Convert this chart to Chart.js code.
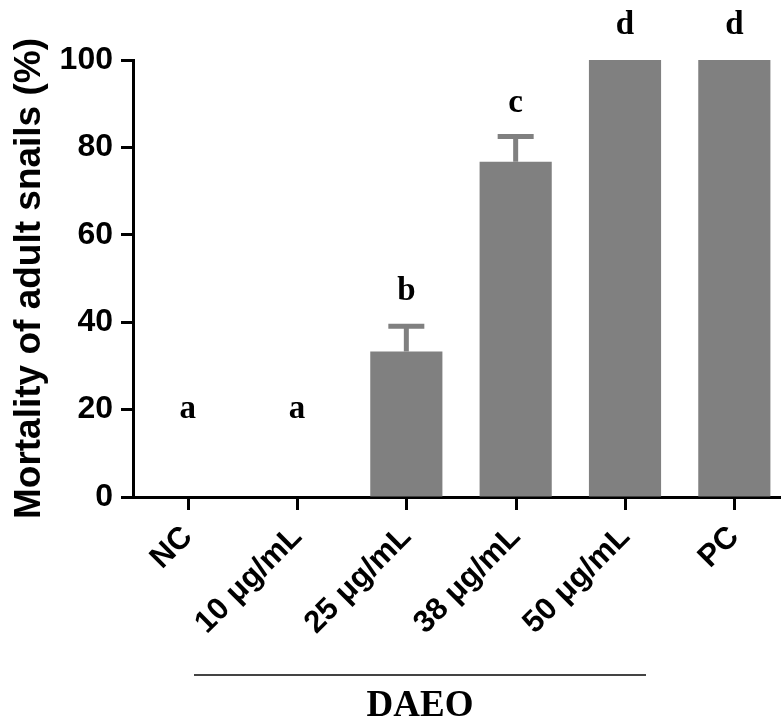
<!DOCTYPE html>
<html>
<head>
<meta charset="utf-8">
<script src="https://cdn.jsdelivr.net/npm/chart.js@4/dist/chart.umd.min.js"></script>
<style>
  html, body { margin: 0; padding: 0; background: #fff; overflow: hidden; }
  #wrap { width: 790px; height: 725px; }
</style>
</head>
<body>
<div id="wrap"><canvas id="mortalityChart"></canvas></div>
<script>
const groups = ['NC', '10 μg/mL', '25 μg/mL', '38 μg/mL', '50 μg/mL', 'PC'];
const mortality = [0, 0, 33.3, 76.7, 100, 100];
const errUp = [0, 0, 5.8, 5.8, 0, 0];
const letters = ['a', 'a', 'b', 'c', 'd', 'd'];
const letterAt = [20, 20, 47, 90, 108, 108];
const yTicks = [0, 20, 40, 60, 80, 100];

const barGray = '#808080';
const sans = '"Liberation Sans", Arial, sans-serif';
const serif = '"Liberation Serif", "Times New Roman", serif';

const errorBars = {
    id: 'errorBars',
    afterDatasetsDraw(chart) {
        const ctx = chart.ctx;
        const xs = chart.scales.x, ys = chart.scales.y;
        ctx.save();
        // x tick marks under each bar centre
        const base = chart.chartArea.bottom;
        ctx.strokeStyle = '#000';
        ctx.lineWidth = 3;
        groups.forEach((g, i) => {
            const x = Math.round(xs.getPixelForValue(i)) + 0.5;
            ctx.beginPath();
            ctx.moveTo(x, base);
            ctx.lineTo(x, base + 13);
            ctx.stroke();
        });
        ctx.strokeStyle = barGray;
        ctx.lineWidth = 5;
        errUp.forEach((e, i) => {
            if (!e) return;
            const x = xs.getPixelForValue(i);
            const y0 = ys.getPixelForValue(mortality[i]);
            const y1 = ys.getPixelForValue(mortality[i] + e);
            ctx.beginPath();
            ctx.moveTo(x, y0);
            ctx.lineTo(x, y1);
            ctx.moveTo(x - 18, y1);
            ctx.lineTo(x + 18, y1);
            ctx.stroke();
        });
        // significance letters
        ctx.fillStyle = '#000';
        ctx.font = 'bold 33px ' + serif;
        ctx.textAlign = 'center';
        ctx.textBaseline = 'middle';
        letters.forEach((t, i) => {
            ctx.fillText(t, xs.getPixelForValue(i), ys.getPixelForValue(letterAt[i]));
        });
        // DAEO bracket under the dose labels
        const xa = xs.getPixelForValue(1) - 103;
        const xb = xs.getPixelForValue(4) + 21;
        ctx.strokeStyle = '#444';
        ctx.lineWidth = 2;
        ctx.beginPath();
        ctx.moveTo(xa, 675);
        ctx.lineTo(xb, 675);
        ctx.stroke();
        ctx.font = 'bold 37px ' + serif;
        ctx.fillText('DAEO', (xa + xb) / 2, 706);
        ctx.restore();
    }
};

new Chart(document.getElementById('mortalityChart'), {
    type: 'bar',
    data: {
        labels: groups,
        datasets: [{
            data: mortality,
            backgroundColor: barGray,
            categoryPercentage: 1,
            barPercentage: 0.66
        }]
    },
    options: {
        responsive: true,
        maintainAspectRatio: false,
        animation: false,
        layout: { padding: { top: 60, right: 1, left: 0, bottom: 0 } },
        plugins: { legend: { display: false }, tooltip: { enabled: false } },
        scales: {
            x: {
                grid: { display: false },
                border: { color: '#000', width: 3 },
                ticks: {
                    color: '#000',
                    font: { family: sans, size: 31, weight: 'bold' },
                    minRotation: 45, maxRotation: 45,
                    padding: 14
                },
                afterFit(scale) { scale.height = 228; }
            },
            y: {
                min: 0, max: 100,
                afterBuildTicks(scale) { scale.ticks = yTicks.map(v => ({ value: v })); },
                grid: { drawOnChartArea: false, tickLength: 12, tickWidth: 3, tickColor: '#000' },
                border: { color: '#000', width: 3 },
                ticks: {
                    color: '#000',
                    font: { family: sans, size: 32, weight: 'bold' },
                    padding: 8
                },
                title: {
                    display: true,
                    text: 'Mortality of adult snails (%)',
                    color: '#000',
                    font: { family: sans, size: 37, weight: 'bold' },
                    padding: { top: 8, bottom: 0 }
                },
                afterFit(scale) { scale.width = 133; }
            }
        }
    },
    plugins: [errorBars]
});
</script>
</body>
</html>
